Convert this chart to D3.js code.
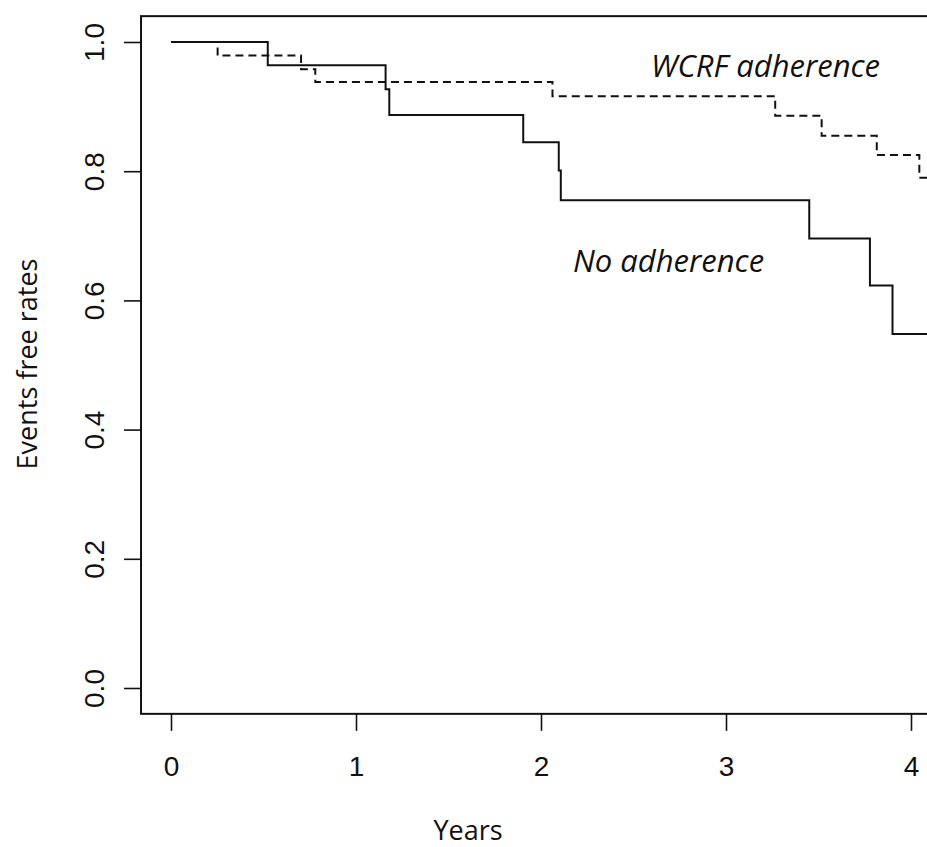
<!DOCTYPE html>
<html>
<head>
<meta charset="utf-8">
<script src="https://cdn.jsdelivr.net/npm/d3@7"></script>
<style>
  body { margin: 0; background: #fff; }
  .tickLabel { font-family: "Liberation Sans", Arial, sans-serif; font-size: 28px; fill: #111; }
  .axisTitle { font-family: "Open Sans", sans-serif; font-size: 27px; fill: #111; }
  .curveLabel { font-family: "Open Sans", sans-serif; font-style: italic; font-size: 31px; fill: #111; }
</style>
</head>
<body>
<svg id="chart"></svg>
<script>
// survival curves (time in years, event free rate)
var noAdhTimes = [0, 0.523, 1.16, 1.18, 1.904, 2.096, 2.107, 3.45, 3.778, 3.90, 4.3];
var noAdhRates = [1.0, 0.964, 0.927, 0.887, 0.845, 0.801, 0.755, 0.696, 0.623, 0.548, 0.548];

var wcrfTimes = [0, 0.252, 0.703, 0.78, 2.062, 3.266, 3.517, 3.815, 4.045, 4.3];
var wcrfRates = [1.0, 0.979, 0.958, 0.938, 0.916, 0.886, 0.855, 0.825, 0.790, 0.790];

var xTicks = [0, 1, 2, 3, 4];
var yTicks = [0.0, 0.2, 0.4, 0.6, 0.8, 1.0];

var width = 927;
var height = 847;

var svg = d3.select("#chart").attr("width", width).attr("height", height);

var xScale = d3.scaleLinear().domain([0, 4]).range([171, 911]);
var yScale = d3.scaleLinear().domain([0, 1]).range([688, 42]);

// R style box: 4% padding around the data range
var boxLeft = xScale(-0.162);
var boxRight = xScale(4.3);
var boxTop = yScale(1.04);
var boxBottom = yScale(-0.04);

svg.append("clipPath").attr("id", "plotClip")
    .append("rect")
    .attr("x", boxLeft).attr("y", boxTop)
    .attr("width", boxRight - boxLeft).attr("height", boxBottom - boxTop);

var line = d3.line()
    .x(d => xScale(d[0]))
    .y(d => yScale(d[1]))
    .curve(d3.curveStepAfter);

var noAdh = noAdhTimes.map((t, i) => [t, noAdhRates[i]]);
var wcrf = wcrfTimes.map((t, i) => [t, wcrfRates[i]]);

svg.append("path")
    .attr("d", line(noAdh))
    .attr("clip-path", "url(#plotClip)")
    .attr("fill", "none")
    .attr("stroke", "#111")
    .attr("stroke-width", 2);

svg.append("path")
    .attr("d", line(wcrf))
    .attr("clip-path", "url(#plotClip)")
    .attr("fill", "none")
    .attr("stroke", "#111")
    .attr("stroke-width", 2)
    .attr("stroke-dasharray", "8,5");

// box
svg.append("rect")
    .attr("x", boxLeft).attr("y", boxTop)
    .attr("width", boxRight - boxLeft).attr("height", boxBottom - boxTop)
    .attr("fill", "none")
    .attr("stroke", "#111")
    .attr("stroke-width", 2);

// x axis
var xAxis = svg.append("g")
    .attr("transform", `translate(0,${boxBottom})`)
    .call(d3.axisBottom(xScale).tickValues(xTicks).tickSize(17).tickSizeOuter(0).tickFormat(d3.format("d")));
xAxis.select(".domain").remove();
xAxis.selectAll("line").attr("stroke", "#111").attr("stroke-width", 1.6);
xAxis.selectAll("text").attr("class", "tickLabel").attr("font-size", null).attr("font-family", null)
    .attr("y", 52).attr("dy", "0.36em");

// y axis
var yAxis = svg.append("g")
    .attr("transform", `translate(${boxLeft},0)`)
    .call(d3.axisLeft(yScale).tickValues(yTicks).tickSize(17).tickSizeOuter(0).tickFormat(d3.format(".1f")));
yAxis.select(".domain").remove();
yAxis.selectAll("line").attr("stroke", "#111").attr("stroke-width", 1.6);
yAxis.selectAll("text")
    .attr("class", "tickLabel").attr("font-size", null).attr("font-family", null)
    .attr("x", null).attr("dy", null)
    .attr("text-anchor", "middle")
    .attr("transform", "translate(-47,0) rotate(-90)")
    .attr("y", 0).attr("dy", "0.36em");

// axis titles
svg.append("text")
    .attr("class", "axisTitle")
    .attr("x", 468).attr("y", 840)
    .attr("text-anchor", "middle")
    .text("Years");

svg.append("text")
    .attr("class", "axisTitle")
    .attr("font-size", "29px")
    .attr("transform", "translate(37,364) rotate(-90)")
    .attr("text-anchor", "middle")
    .text("Events free rates");

// curve labels
svg.append("text")
    .attr("class", "curveLabel")
    .attr("x", 651).attr("y", 77)
    .text("WCRF adherence");

svg.append("text")
    .attr("class", "curveLabel")
    .attr("x", 573).attr("y", 272)
    .text("No adherence");
</script>
</body>
</html>
